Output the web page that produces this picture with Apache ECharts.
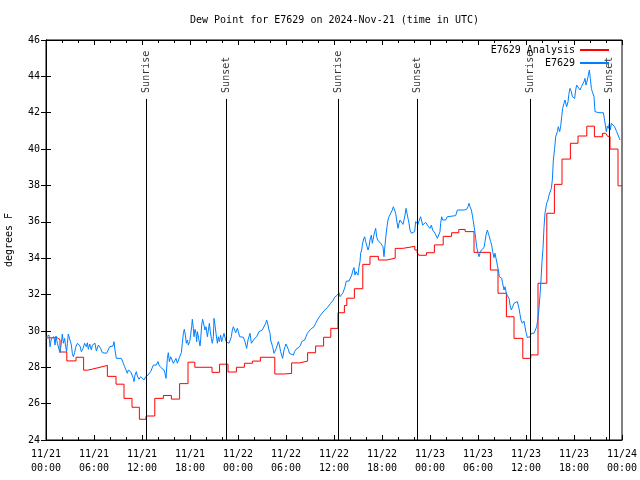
<!DOCTYPE html>
<html><head><meta charset="utf-8">
<script src="https://cdn.jsdelivr.net/npm/echarts@6/dist/echarts.min.js"></script>
<style>html,body{margin:0;padding:0;background:#fff}#c{width:640px;height:480px}</style>
</head><body><div id="c"></div>
<script>
// hours since 2024-11-21 00:00 UTC, dew point degrees F
const analysisData = [
[0,29.62],[1.4,29.52],[1.75,28.84],[2.6,28.35],[3.75,28.55],[4.7,27.84],[5.2,27.9],[5.8,28.0],[6.75,28.1],[7.67,27.5],[8.75,27.07],[9.75,26.29],[10.75,25.8],[11.67,25.14],[12.5,25.32],[13.6,26.29],[14.67,26.45],[15.67,26.25],[16.7,27.1],[17.75,28.28],[18.6,28.0],[20.75,27.72],[21.7,28.17],[22.75,27.74],[23.8,28.0],[24.8,28.22],[25.8,28.34],[26.8,28.55],[28.6,27.63],[29.7,27.66],[30.7,28.24],[31.7,28.34],[32.7,28.8],[33.7,29.17],[34.7,29.65],[35.6,30.14],[36.5,31.0],[37.3,31.4],[37.6,31.8],[38.55,32.32],[39.6,33.66],[40.5,34.1],[41.55,33.9],[42.6,34.0],[43.65,34.54],[44.6,34.65],[46.1,34.45],[46.4,34.3],[46.6,34.16],[47.55,34.3],[48.55,34.73],[49.65,35.2],[50.7,35.4],[51.6,35.58],[52.4,35.46],[53.5,34.32],[55.55,33.35],[56.5,32.07],[57.55,30.78],[58.5,29.59],[59.6,28.49],[60.6,28.68],[61.5,32.62],[62.6,36.47],[63.55,38.06],[64.5,39.45],[65.55,40.32],[66.5,40.72],[67.6,41.26],[68.55,40.68],[69.55,40.87],[69.95,40.96],[70.2,40.7],[70.5,40.0],[71.5,37.98],[72,37.98]
];
const stationData = [
[0.08,29.68],[0.17,29.77],[0.29,29.59],[0.375,29.77],[0.5,29.13],[0.58,29.32],[0.67,29.59],[0.79,29.5],[1.0,29.68],[1.125,29.22],[1.25,29.72],[1.42,29.32],[1.625,29.22],[1.75,28.8],[1.83,29.04],[1.96,29.5],[2.04,29.83],[2.17,29.32],[2.33,29.59],[2.46,29.13],[2.58,28.86],[2.67,29.32],[2.79,29.83],[3.0,29.77],[3.17,29.22],[3.29,28.77],[3.42,28.58],[3.58,28.8],[3.71,29.1],[3.92,29.32],[4.0,29.35],[4.25,29.17],[4.42,28.86],[4.625,29.04],[4.83,29.32],[5.04,29.13],[5.17,29.35],[5.29,28.99],[5.46,29.28],[5.67,28.95],[5.79,29.22],[6.0,29.13],[6.125,29.32],[6.29,28.89],[6.54,29.22],[6.71,29.32],[6.83,29.04],[7.04,28.8],[7.25,28.8],[7.58,28.77],[7.75,28.86],[7.96,29.13],[8.17,29.1],[8.375,29.17],[8.5,29.41],[8.625,28.95],[8.79,28.49],[9.42,28.49],[9.67,28.22],[9.83,28.03],[9.96,27.89],[10.17,27.67],[10.29,27.85],[10.46,27.94],[10.58,27.76],[10.71,27.85],[10.92,27.39],[11.0,27.21],[11.125,27.57],[11.29,27.76],[11.42,27.52],[11.625,27.34],[11.83,27.48],[12.04,27.52],
[12.25,27.3],[12.46,27.48],[12.58,27.39],[12.75,27.57],[12.875,27.52],[13.08,27.76],[13.29,27.85],[13.42,28.12],[13.58,28.03],[13.79,28.12],[14.0,28.31],[14.125,28.12],[14.33,28.0],[14.54,27.94],[14.75,27.85],[14.875,27.67],[15.0,27.39],[15.17,28.49],[15.29,28.8],[15.42,28.31],[15.58,28.58],[15.79,28.58],[15.92,28.22],[16.08,28.12],[16.25,28.49],[16.42,28.22],[16.54,28.12],[16.71,28.58],[16.92,28.8],[17.04,29.32],[17.17,29.87],[17.29,30.09],[17.42,29.77],[17.54,29.32],[17.67,29.5],[17.79,29.22],[17.96,29.41],[18.08,29.77],[18.21,30.23],[18.29,30.64],[18.42,30.14],[18.5,29.68],[18.625,30.09],[18.75,29.87],[18.83,29.41],[18.92,29.96],[19.08,29.59],[19.25,29.17],[19.33,29.5],[19.46,30.32],[19.58,30.64],[19.75,30.64],[19.875,30.05],[20.0,30.23],[20.17,29.68],[20.29,30.01],[20.42,30.42],[20.54,29.96],[20.67,29.59],[20.79,29.32],[20.92,29.68],[21.0,30.69],[21.125,30.32],[21.25,29.87],[21.42,29.32],[21.54,29.68],[21.67,29.41],[21.83,29.77],[21.96,29.41],[22.08,29.59],[22.25,29.87],[22.375,29.77],[22.5,29.41],[22.875,29.32],[23.0,29.41],[23.17,29.68],[23.29,30.05],[23.42,30.23],[23.58,30.05],[23.71,29.9],[23.92,30.14],[24.04,29.96],[24.21,29.68],[24.42,29.68],[24.67,29.65],
[24.75,29.59],[24.875,29.41],[25.08,29.04],[25.25,29.5],[25.375,29.59],[25.5,29.87],[25.67,29.32],[25.79,29.22],[25.92,29.28],[26.08,29.59],[26.33,29.68],[26.5,29.77],[26.625,29.96],[26.83,30.01],[27.04,30.05],[27.25,30.14],[27.46,30.42],[27.58,30.6],[27.75,30.32],[27.875,30.05],[28.0,29.87],[28.08,29.5],[28.21,29.41],[28.33,29.13],[28.5,28.77],[28.625,28.86],[28.79,29.04],[28.92,29.13],[29.04,29.41],[29.17,29.22],[29.33,28.86],[29.46,28.77],[29.58,28.49],[29.75,28.95],[29.875,29.13],[30.0,29.28],[30.17,29.22],[30.29,28.99],[30.42,28.77],[30.58,28.67],[30.92,28.67],[31.08,28.86],[31.25,28.99],[31.5,28.99],[31.625,29.1],[31.83,29.22],[31.96,29.41],[32.17,29.35],[32.33,29.5],[32.5,29.68],[32.67,29.87],[32.875,29.96],[33.08,30.09],[33.29,30.14],[33.5,30.23],[33.71,30.42],[33.92,30.6],[34.125,30.75],[34.33,30.87],[34.54,30.97],[34.75,31.11],[34.96,31.19],[35.17,31.28],[35.375,31.37],[35.58,31.52],[35.79,31.61],[35.92,31.7],[36.08,31.85],[36.21,31.92],[36.42,31.97],[36.625,32.1],[36.75,31.88],[36.92,31.79],[37.125,32.1],
[37.25,32.2],[37.375,32.43],[37.54,32.74],[37.875,32.74],[38.08,32.8],[38.21,33.07],[38.375,33.35],[38.5,33.48],[38.625,33.07],[38.75,33.26],[38.92,33.35],[39.0,33.07],[39.125,33.53],[39.25,33.81],[39.33,34.27],[39.46,34.45],[39.54,34.72],[39.67,35.0],[39.83,35.18],[39.96,34.91],[40.08,34.72],[40.25,34.45],[40.375,34.63],[40.5,35.0],[40.67,35.27],[40.79,34.82],[40.92,34.91],[41.08,35.46],[41.21,35.64],[41.33,35.18],[41.46,35.0],[41.58,35.09],[41.71,34.91],[41.83,34.82],[41.96,34.76],[42.125,34.63],[42.25,34.08],[42.375,34.72],[42.5,35.27],[42.625,35.73],[42.75,36.1],[42.875,36.28],[43.08,36.37],[43.29,36.65],[43.42,36.83],[43.58,36.83],[43.71,36.47],[43.83,36.1],[44.0,35.64],[44.125,35.92],[44.25,36.1],[44.33,36.01],[44.46,36.19],[44.625,35.86],[44.75,36.1],[44.875,36.37],[45.0,36.74],[45.125,36.47],[45.25,36.19],[45.375,35.92],[45.5,35.55],[45.67,35.37],[45.875,35.37],[46.08,35.46],[46.21,36.01],[46.33,36.1],[46.5,35.86],[46.67,36.1],[46.83,36.28],[46.96,36.19],[47.08,35.82],[47.25,35.92],[47.46,35.97],[47.67,35.82],[47.875,35.92],[48.0,35.64],[48.17,35.82],[48.33,35.55],[48.5,35.64],[48.625,35.37],[48.79,35.31],[48.92,35.09],[49.08,35.09],[49.25,35.46],[49.33,35.92],[49.46,36.28],[49.58,36.1],
[49.75,36.1],[49.96,36.1],[50.17,36.28],[50.375,36.34],[51.21,36.34],[51.42,36.65],[52.25,36.65],[52.58,36.69],[52.75,36.83],[52.875,37.02],[53.0,36.83],[53.17,36.65],[53.29,36.37],[53.42,36.01],[53.58,35.55],[53.71,35.09],[53.83,34.63],[54.0,34.27],[54.125,34.08],[54.25,34.27],[54.42,34.45],[54.54,34.54],[54.67,34.36],[54.75,34.58],[54.875,34.91],[55.0,35.27],[55.17,35.55],[55.29,35.37],[55.42,35.18],[55.58,34.91],[55.71,34.72],[55.83,34.36],[56.0,34.03],[56.125,34.27],[56.25,33.99],[56.42,33.62],[56.54,33.35],[56.67,32.98],[56.83,33.07],[56.96,32.89],[57.08,32.62],[57.25,32.25],[57.375,32.43],[57.5,32.16],[57.625,31.97],[57.75,32.07],[57.875,31.79],[58.0,31.42],[58.17,31.15],[58.33,31.33],[58.5,31.52],[58.625,31.61],[58.75,31.42],[58.92,31.61],[59.125,31.24],[59.25,30.91],[59.375,30.6],[59.54,30.42],[59.75,30.54],[59.875,30.23],[60.0,29.92],[60.17,29.63],[60.375,29.59],[60.5,29.68],[60.67,29.87],[61.0,29.87],[61.21,29.92],[61.33,30.23],[61.5,30.69],[61.625,31.24],[61.75,31.97],[61.875,32.8],[62.0,33.81],[62.125,34.54],
[62.25,35.7],[62.375,36.47],[62.58,37.02],[62.75,37.2],[62.875,37.47],[63.0,37.57],[63.17,37.84],[63.29,38.3],[63.42,39.4],[63.58,40.04],[63.71,40.68],[63.92,40.96],[64.04,41.23],[64.21,40.96],[64.33,41.23],[64.46,41.78],[64.58,42.24],[64.75,42.52],[64.875,42.7],[65.0,42.7],[65.08,42.33],[65.25,42.6],[65.375,43.07],[65.5,43.34],[65.67,43.16],[65.79,42.88],[65.92,42.97],[66.08,42.79],[66.21,43.25],[66.33,43.52],[66.46,43.43],[66.58,43.62],[66.75,43.25],[66.92,43.43],[67.08,43.52],[67.25,43.71],[67.375,43.89],[67.5,43.52],[67.67,43.8],[67.79,44.07],[67.92,44.35],[68.04,43.89],[68.17,43.34],[68.29,43.16],[68.42,43.25],[68.5,42.88],[68.625,42.06],[69.125,42.0],[69.67,42.0],[69.79,41.69],[69.92,41.32],[70.04,40.96],[70.17,41.27],[70.29,41.14],[70.42,41.42],[70.54,41.05],[70.67,41.42],[70.79,41.51],[70.92,41.32],[71.08,41.23],[71.21,41.14],[71.33,40.96],[71.5,40.96],[71.67,40.59],[71.75,40.5]
];
const sunEventHours = [12.52, 22.53, 36.54, 46.42, 60.54, 70.42];
const sunEventNames = ['Sunrise', 'Sunset', 'Sunrise', 'Sunset', 'Sunrise', 'Sunset'];
const markerTop = 42.76;
const seriesNames = ['E7629 Analysis', 'E7629'];
const dayLabels = ['11/21', '11/22', '11/23', '11/24'];
const titleText = 'Dew Point for E7629 on 2024-Nov-21 (time in UTC)';
const yName = 'degrees F';
const yMin = 24, yMax = 46, yStep = 2;
const xMin = 0, xMax = 72, xStep = 6;

const FONT = 'DejaVu Sans Mono';
const FS = 10;
function pad(n){return (n<10?'0':'')+n;}
function xFmt(v){
  const d = Math.floor(v/24), h = Math.round(v - d*24);
  return dayLabels[d] + '\n' + pad(h) + ':00';
}
const chart = echarts.init(document.getElementById('c'), null, {renderer:'canvas'});
const tickCommon = {inside:true, length:5, lineStyle:{color:'#000',width:1}};
const minorCommon = {show:true, splitNumber:3, length:3, lineStyle:{color:'#000',width:1}};
chart.setOption({
  animation:false,
  backgroundColor:'#fff',
  textStyle:{fontFamily:FONT, fontSize:FS, color:'#000'},
  title:{text:titleText, left:190, top:15, padding:0,
    textStyle:{fontFamily:FONT, fontSize:FS, fontWeight:'normal', color:'#000'}},
  legend:{data:seriesNames, orient:'vertical', align:'right', right:30, top:44, padding:0,
    itemWidth:29, itemHeight:12, itemGap:1,
    itemStyle:{opacity:0},
    textStyle:{fontFamily:FONT, fontSize:FS, color:'#000', lineHeight:12}},
  grid:{left:46, right:18, top:40, bottom:40, show:true, borderColor:'#000', borderWidth:1,
    containLabel:false, outerBoundsMode:'none'},
  xAxis:[
    {type:'value', min:xMin, max:xMax, interval:xStep, position:'bottom',
     axisLine:{show:true, lineStyle:{color:'#000'}}, axisTick:tickCommon, minorTick:minorCommon,
     splitLine:{show:false},
     axisLabel:{formatter:xFmt, margin:7, fontFamily:FONT, fontSize:FS, color:'#000', lineHeight:14}},
    {type:'value', min:xMin, max:xMax, interval:xStep, position:'top',
     axisLine:{show:true, lineStyle:{color:'#000'}}, axisTick:tickCommon, minorTick:minorCommon,
     splitLine:{show:false}, axisLabel:{show:false}}
  ],
  yAxis:[
    {type:'value', min:yMin, max:yMax, interval:yStep, position:'left',
     name:yName, nameLocation:'middle', nameGap:32, nameRotate:90,
     nameTextStyle:{fontFamily:FONT, fontSize:FS, color:'#000'},
     axisLine:{show:true, lineStyle:{color:'#000'}}, axisTick:tickCommon,
     splitLine:{show:false},
     axisLabel:{margin:6, fontFamily:FONT, fontSize:FS, color:'#000'}},
    {type:'value', min:yMin, max:yMax, interval:yStep, position:'right',
     axisLine:{show:true, lineStyle:{color:'#000'}}, axisTick:tickCommon,
     splitLine:{show:false}, axisLabel:{show:false}}
  ],
  series:[
    {name:'sun', type:'scatter', xAxisIndex:0, yAxisIndex:0, symbolSize:0, silent:true,
     data: sunEventHours.map((h,i)=>({value:[h, markerTop], label:{formatter:sunEventNames[i]}})),
     label:{show:true, position:'top', distance:6, rotate:90, align:'left', verticalAlign:'middle',
       fontFamily:FONT, fontSize:FS, color:'#000'},
     markLine:{silent:true, symbol:['none','none'], label:{show:false},
       lineStyle:{color:'#000', width:1, type:'solid'},
       data: sunEventHours.map(h=>[{coord:[h, yMin]},{coord:[h, markerTop]}])}
    },
    {name:seriesNames[0], type:'line', step:'end', data:analysisData, symbol:'none', showSymbol:false,
     lineStyle:{color:'#ff0000', width:1}, itemStyle:{color:'#ff0000'}},
    {name:seriesNames[1], type:'line', data:stationData, symbol:'none', showSymbol:false,
     lineStyle:{color:'#0080ff', width:1}, itemStyle:{color:'#0080ff'}}
  ]
});
</script></body></html>
